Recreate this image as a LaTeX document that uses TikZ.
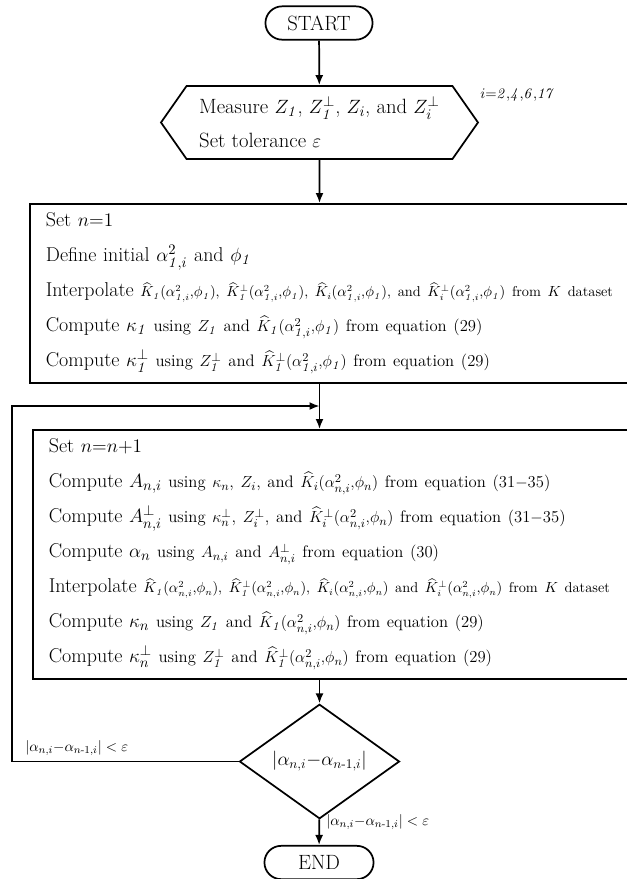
\documentclass[tikz,border=0pt]{standalone}
\usepackage{amsmath}
\usetikzlibrary{positioning,shapes,arrows.meta}
\newcommand{\one}{\mathit{1}}
\newcommand{\tailtxt}[1]{{\fontsize{12.5}{26.25}\selectfont #1}}
\newcommand{\listtxt}[1]{{\fontsize{10.7}{26.25}\selectfont #1}}
\tikzset{
  terminal/.style={
    % The shape:
    rounded rectangle,
    minimum height=25pt,
    % The rest
    line width=1.3pt,draw=black,
    font=\fontsize{15.5}{18}\selectfont},
  inputbox/.style={
    % The shape:
    signal, signal to=west and east, signal pointer angle=110,
    % The size:
    minimum width=237.75pt, minimum height=54.75pt,
    % The border:
    line width=1.3pt,draw=black,
    % Font
    align=left, font=\fontsize{15.5}{25.5}\selectfont},
  process/.style={
    % The shape:
    rectangle, anchor=north west,
    text width=501pt, inner xsep=12pt, inner ysep=0pt,
    % The border:
    line width=1.3pt,draw=black,
    % Font
    align=left, font=\fontsize{15}{26.25}\selectfont},
  decision/.style={
    % The shape:
    diamond, inner sep=0pt,
    minimum width=120pt, minimum height=54.75pt,
    line width=1.3pt,draw=black,
    font=\fontsize{14.5}{16}\selectfont},
  note/.style={font=\fontsize{11}{13}\selectfont, inner sep=0pt},
  tip/.style={->,line width=1.3pt}
}

\begin{document}
\begin{tikzpicture}[x=0.75pt,y=-0.75pt,>={Latex[length=7.5pt,width=6pt]}]
  \useasboundingbox (0,0) rectangle (627,879);
  \clip (0,0) rectangle (627,879);

  \node (start) [terminal, minimum width=87pt] at (319,23) {START};
  \node (meas)  [inputbox] at (319.5,122.5)
    {Measure $Z_\one$, $Z_\one^{\perp}$, $Z_i$, and $Z_i^{\perp}$\\ Set tolerance $\varepsilon$};
  \node (range) [note, anchor=west] at (480,95) {$i{=}\mathit{2{,}4{,}6{,}17}$};

  \node (init) [process, minimum height=134.25pt] at (29,203)
    {Set $n{=}1$\\
     Define initial $\alpha^2_{\one,i}$ and $\phi_\one$\\
     Interpolate \listtxt{$\widehat{K}_\one(\alpha^2_{\one,i}{,}\phi_\one)$, $\widehat{K}_\one^{\perp}(\alpha^2_{\one,i}{,}\phi_\one)$, $\widehat{K}_i(\alpha^2_{\one,i}{,}\phi_\one)$, and $\widehat{K}_i^{\perp}(\alpha^2_{\one,i}{,}\phi_\one)$ from $K$ dataset}\\
     Compute $\kappa_\one$ \tailtxt{using $Z_\one$ and $\widehat{K}_\one(\alpha^2_{\one,i}{,}\phi_\one)$ from equation (29)}\\
     Compute $\kappa_\one^{\perp}$ \tailtxt{using $Z_\one^{\perp}$ and $\widehat{K}_\one^{\perp}(\alpha^2_{\one,i}{,}\phi_\one)$ from equation (29)}};

  \coordinate (join) at (319.5,406);
  \coordinate (loop) at (12,406);

  \node (iter) [process, minimum height=186.75pt] at (32,429)
    {Set $n{=}n{+}1$\\
     Compute $A_{n,i}$ \tailtxt{using $\kappa_n$, $Z_i$, and $\widehat{K}_i(\alpha^2_{n,i}{,}\phi_n)$ from equation (31$-$35)}\\
     Compute $A_{n,i}^{\perp}$ \tailtxt{using $\kappa_n^{\perp}$, $Z_i^{\perp}$, and $\widehat{K}_i^{\perp}(\alpha^2_{n,i}{,}\phi_n)$ from equation (31$-$35)}\\
     Compute $\alpha_n$ \tailtxt{using $A_{n,i}$ and $A_{n,i}^{\perp}$ from equation (30)}\\
     Interpolate \listtxt{$\widehat{K}_\one(\alpha^2_{n,i}{,}\phi_n)$, $\widehat{K}_\one^{\perp}(\alpha^2_{n,i}{,}\phi_n)$, $\widehat{K}_i(\alpha^2_{n,i}{,}\phi_n)$ and $\widehat{K}_i^{\perp}(\alpha^2_{n,i}{,}\phi_n)$ from $K$ dataset}\\
     Compute $\kappa_n$ \tailtxt{using $Z_\one$ and $\widehat{K}_\one(\alpha^2_{n,i}{,}\phi_n)$ from equation (29)}\\
     Compute $\kappa_n^{\perp}$ \tailtxt{using $Z_\one^{\perp}$ and $\widehat{K}_\one^{\perp}(\alpha^2_{n,i}{,}\phi_n)$ from equation (29)}};

  \node (check) [decision] at (319.5,761.5)
    {$\left|\alpha_{n,i}{-}\alpha_{n\text{-}1,i}\right|$};
  \node (stop) [terminal, minimum width=88.5pt] at (319,862.5) {END};

  \draw[tip] (start) -- (meas);
  \draw[tip] (meas) -- (meas |- init.north);
  \draw[tip] (join |- init.south) -- (join |- iter.north);
  \draw[tip] (check.west) -| (loop) -- (join);
  \draw[tip] (join |- iter.south) -- (check);
  \draw[tip] (check) -- (stop);

  \node (back) [note, anchor=west] at (25,748)
    {$|\alpha_{n,i}{-}\alpha_{n\text{-}1,i}|<\varepsilon$};
  \node (done) [note, anchor=west] at (326,822)
    {$|\alpha_{n,i}{-}\alpha_{n\text{-}1,i}|<\varepsilon$};
\end{tikzpicture}
\end{document}
